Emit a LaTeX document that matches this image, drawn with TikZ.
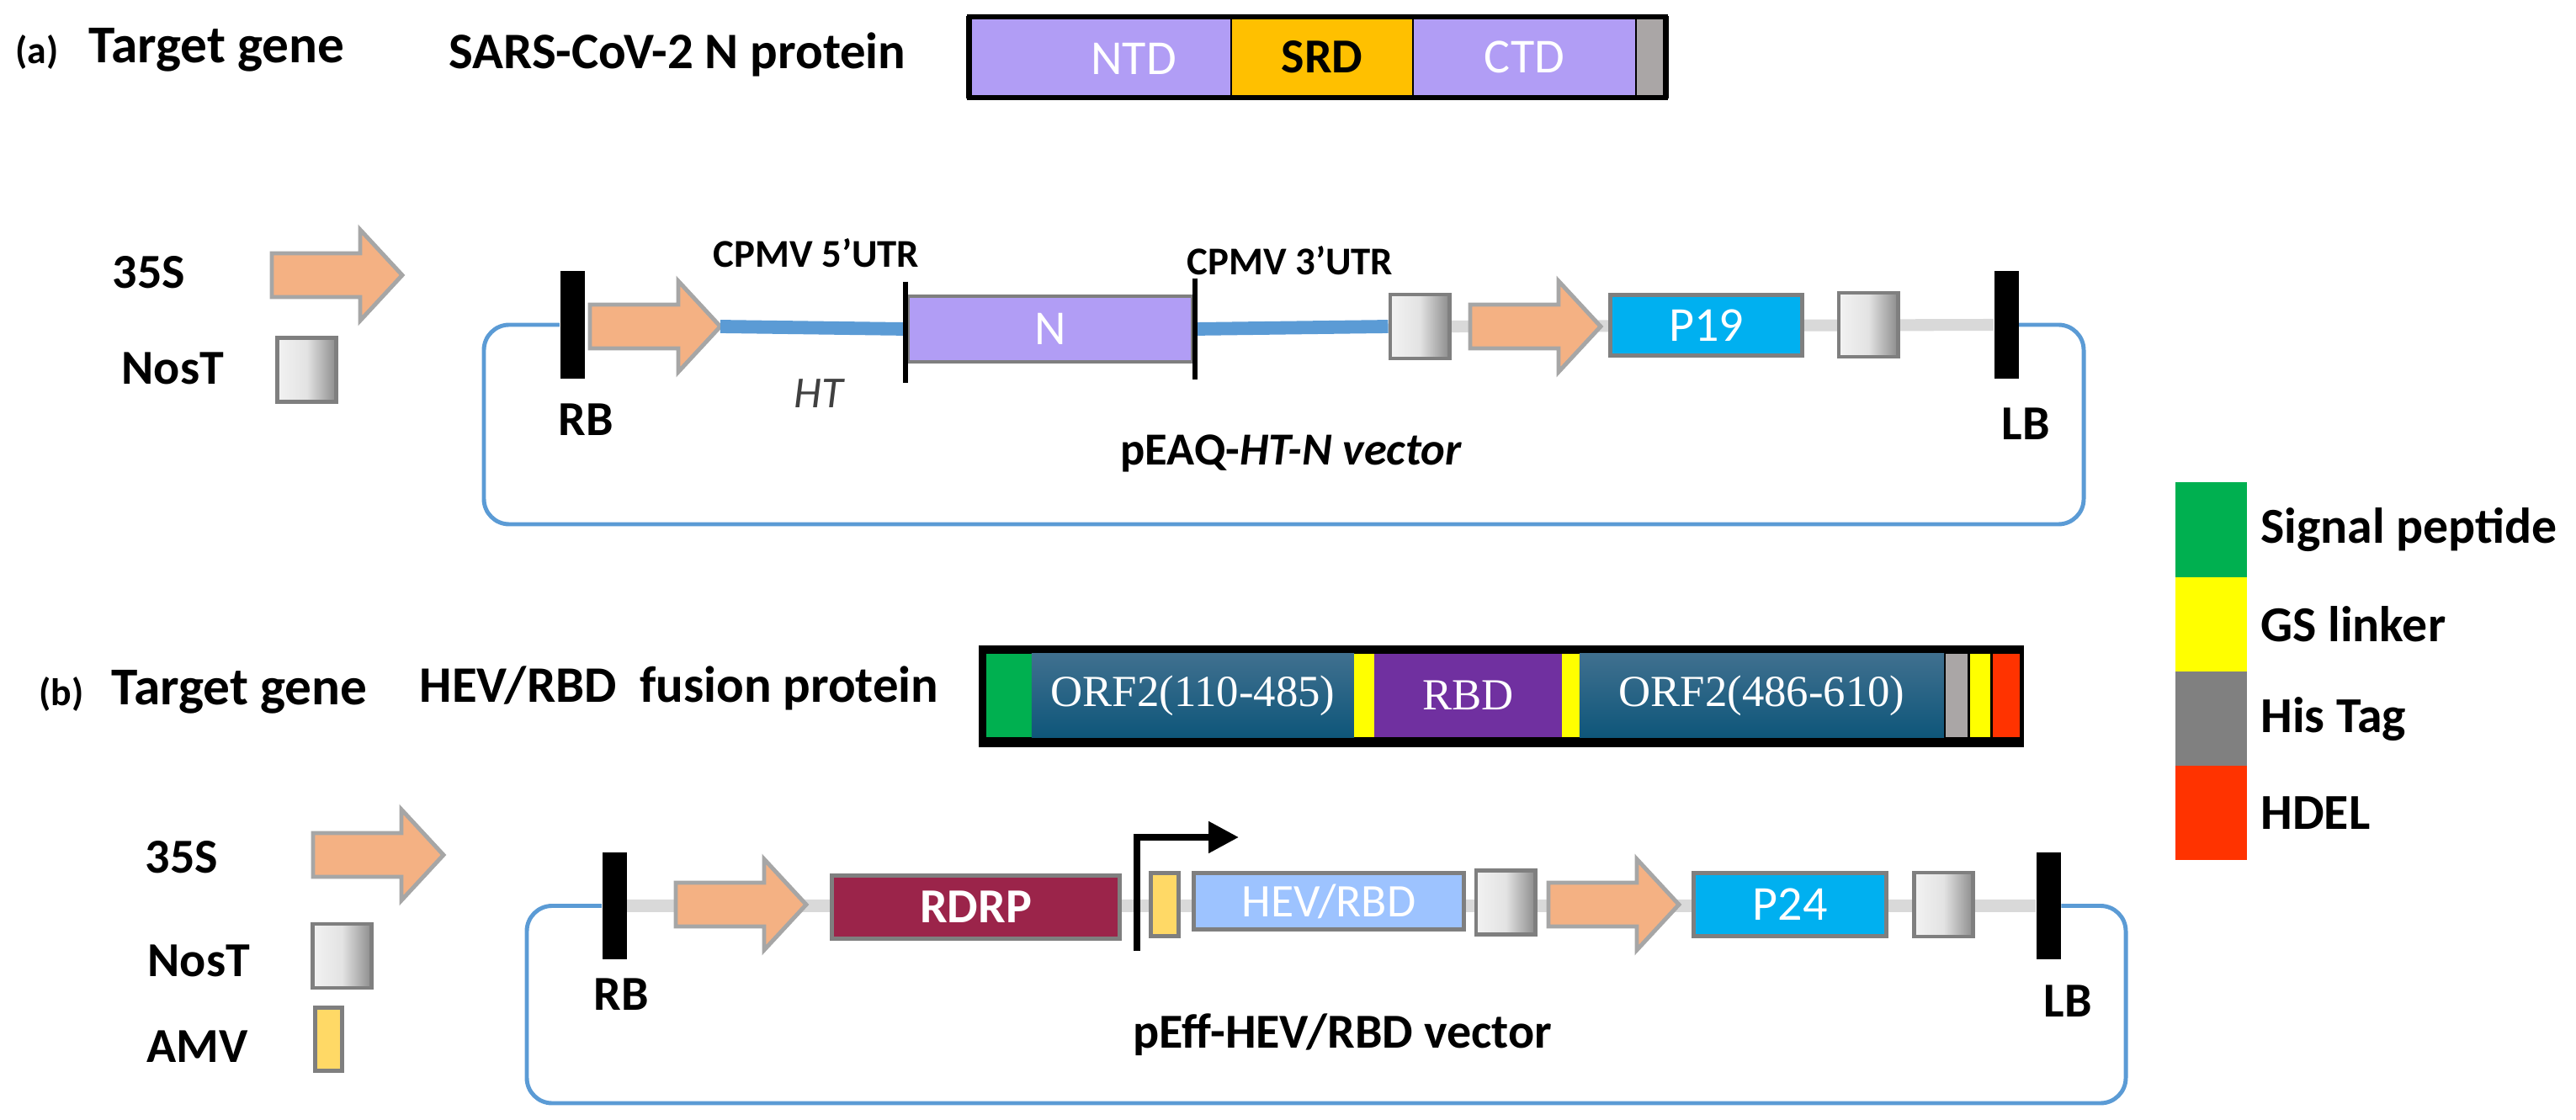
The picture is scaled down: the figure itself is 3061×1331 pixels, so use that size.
\documentclass[tikz,border=0pt]{standalone}
\usepackage{fontspec}
\setmainfont{Carlito}
\newfontfamily\timesfont{Liberation Serif}
\usetikzlibrary{positioning, arrows.meta, backgrounds}

\definecolor{promoOrange}{RGB}{244,177,131}
\definecolor{promoEdge}{RGB}{166,166,166}
\definecolor{boxEdge}{RGB}{127,127,127}
\definecolor{lavender}{RGB}{177,157,245}
\definecolor{srdGold}{RGB}{255,192,0}
\definecolor{tagGray}{RGB}{170,166,166}
\definecolor{pCyan}{RGB}{0,176,240}
\definecolor{vecBlue}{RGB}{91,155,213}
\definecolor{bbGray}{RGB}{217,217,217}
\definecolor{rdrpRed}{RGB}{155,36,74}
\definecolor{hevBlue}{RGB}{157,195,255}
\definecolor{amvYellow}{RGB}{255,217,102}
\definecolor{orfTop}{RGB}{64,112,143}
\definecolor{orfBot}{RGB}{14,86,122}
\definecolor{rbdPurple}{RGB}{112,48,160}
\definecolor{sigGreen}{RGB}{0,176,80}
\definecolor{gsYellow}{RGB}{255,255,0}
\definecolor{hisGray}{RGB}{128,128,128}
\definecolor{hdelRed}{RGB}{255,51,0}

\tikzset{
    promo/.pic={
        \draw[promoEdge, line width=1.4pt, fill=promoOrange]
            (0,-26) -- (105,-26) -- (105,-54) -- (155,0) -- (105,54) -- (105,26) -- (0,26) -- cycle;
        \coordinate (-tip) at (155,0);
    },
    partlbl/.style={font=\bfseries\fontsize{13}{15}\selectfont, inner sep=0, anchor=base west},
    headlbl/.style={font=\bfseries\fontsize{18}{21}\selectfont, inner sep=0, anchor=base west},
    sublbl/.style={font=\bfseries\fontsize{17.3}{20}\selectfont, inner sep=0, anchor=base west},
    keylbl/.style={font=\bfseries\fontsize{16.5}{19}\selectfont, inner sep=0, anchor=base west},
    utrlbl/.style={font=\bfseries\fontsize{13.3}{15}\selectfont, inner sep=0, anchor=base west},
    htlbl/.style={font=\itshape\fontsize{15}{18}\selectfont, text=black!75, inner sep=0, anchor=base west},
    veclbl/.style={font=\bfseries\fontsize{15.5}{18}\selectfont, inner sep=0, anchor=base west},
    gbox/.style={draw=boxEdge, line width=1.4pt, inner sep=0, text=white, font=\fontsize{16.5}{19}\selectfont},
    nost/.style={gbox, minimum width=0.70cm, minimum height=0.76cm, left color=gray!10, right color=gray!90, middle color=gray!22},
    bbar/.style={fill=black, inner sep=0, minimum width=0.29cm, minimum height=1.27cm},
    nseg/.style={draw=black, line width=0.8pt, inner sep=0, minimum height=0.96cm, text=white, font=\fontsize{16.5}{19}\selectfont},
    hseg/.style={inner sep=0, minimum height=0.99cm, text=white, font=\timesfont\fontsize{15}{17}\selectfont},
    vecline/.style={vecBlue, line width=1.4pt, rounded corners=0.3cm},
    utrline/.style={vecBlue, line width=4.5pt},
    utrtick/.style={black, line width=1.7pt},
    backbone/.style={bbGray, line width=4pt},
    tssline/.style={black, line width=2.3pt, -{Triangle[length=0.36cm, width=0.36cm]}},
    keybar/.style={inner sep=0, minimum width=0.85cm, minimum height=1.12cm},
    keytxt/.style={font=\bfseries\fontsize{17}{20}\selectfont, inner sep=0, anchor=west},
}

\begin{document}
\begin{tikzpicture}[x=0.01cm, y=-0.01cm]

\path[use as bounding box] (0,0) rectangle (3061,1331);
\begin{scope}[on background layer]
\fill[white] (0,0) rectangle (3061,1331);
\end{scope}

% ---------- (a) ----------
\node[partlbl] (partA) at (18,76) {(a)};
\node[headlbl] (tgA) at (105,75) {Target gene};
\node[sublbl] (protA) at (533,82) {SARS-CoV-2 N protein};

\node[nseg, fill=lavender, minimum width=3.14cm] (ntd) at (1306,68) {};
\node[nseg, fill=srdGold, minimum width=2.16cm, text=black, font=\bfseries\fontsize{16.5}{19}\selectfont] (srd) at (1571,68) {SRD};
\node[nseg, fill=lavender, minimum width=2.65cm] (ctd) at (1811.5,68) {CTD};
\node[nseg, fill=tagGray, minimum width=0.38cm] (tagA) at (1963,68) {};
\node[draw=black, line width=1.7pt, inner sep=0, minimum width=8.27cm, minimum height=0.96cm] (nFrame) at (1565.5,68) {};
\node[text=white, inner sep=0, font=\fontsize{16.5}{19}\selectfont] (ntdTxt) at (1347,70) {NTD};

\node[keylbl] (p35A) at (133,343) {35S};
\pic (arr35A) at (323,327) {promo};
\node[keylbl] (nosTA) at (144,457) {NosT};
\node[nost] (nosKeyA) at (364.5,439.5) {};

\node[bbar] (rbA) at (680,386) {};
\node[bbar] (lbA) at (2384,386) {};
\pic (arrA1) at (701,388) {promo};
\node[gbox, fill=lavender, minimum width=3.38cm, minimum height=0.78cm] (nBox) at (1248,391) {N};
\node[nost] (nosA1) at (1687,388) {};
\pic (arrA2) at (1747,388) {promo};
\node[gbox, fill=pCyan, minimum width=2.28cm, minimum height=0.72cm] (p19) at (2027.5,386.5) {P19};
\node[nost] (nosA2) at (2220,386) {};

\draw[utrline] (arrA1-tip) -- (nBox.west);
\draw[utrline] (nBox.east) -- (nosA1.west);
\draw[utrtick] (nBox.north west) ++(0,-15) -- ++(0,120);
\draw[utrtick] (nBox.north east) ++(0,-19) -- ++(0,120);

\begin{scope}[on background layer]
\draw[backbone] (nosA1.east) -- (lbA.west);
\end{scope}

\coordinate (cornA) at (575,623);
\coordinate (cornA2) at (2476,386);
\draw[vecline] (rbA.west) -| (cornA) -| (cornA2) -- (lbA.east);

\node[utrlbl] (utr5) at (847,318) {CPMV 5’UTR};
\node[utrlbl] (utr3) at (1410,327) {CPMV 3’UTR};
\node[htlbl] (htA) at (943,485) {HT};
\node[keylbl] (rbAtxt) at (663,518) {RB};
\node[keylbl] (lbAtxt) at (2378,523) {LB};
\node[veclbl] (vecA) at (1331,553) {pEAQ-\textit{HT-N vector}};

% ---------- (b) ----------
\node[partlbl] (partB) at (46,838) {(b)};
\node[headlbl] (tgB) at (132,837) {Target gene};
\node[sublbl] (protB) at (498,834) {HEV/RBD\ \ fusion protein};

\node[fill=black, inner sep=0, minimum width=12.42cm, minimum height=1.21cm] (hevBar) at (1784,827.5) {};
\node[hseg, fill=sigGreen, minimum width=0.54cm] (sigSeg) at (1199,826.5) {};
\node[hseg, top color=orfTop, bottom color=orfBot, minimum width=3.83cm] (orfA) at (1417.5,826.5) {ORF2(110-485)};
\node[hseg, fill=gsYellow, minimum width=0.24cm] (glA) at (1621,826.5) {};
\node[hseg, fill=rbdPurple, minimum width=2.23cm] (rbdSeg) at (1744.5,826.5) {RBD};
\node[hseg, fill=gsYellow, minimum width=0.21cm] (glB) at (1866.5,826.5) {};
\node[hseg, top color=orfTop, bottom color=orfBot, minimum width=4.33cm] (orfB) at (2093.5,826.5) {ORF2(486-610)};
\node[hseg, fill=tagGray, minimum width=0.26cm] (hisSeg) at (2325,826.5) {};
\node[hseg, fill=gsYellow, minimum width=0.24cm] (glC) at (2353,826.5) {};
\node[hseg, fill=hdelRed, minimum width=0.32cm] (hdelSeg) at (2384,826.5) {};

\node[keylbl] (p35B) at (172,1037) {35S};
\pic (arr35B) at (372,1016) {promo};
\node[keylbl] (nosTB) at (175,1160) {NosT};
\node[nost] (nosKeyB) at (406.5,1136) {};
\node[keylbl] (amvB) at (174,1262) {AMV};
\node[gbox, fill=amvYellow, minimum width=0.32cm, minimum height=0.75cm] (amvKey) at (390.5,1235) {};

\node[bbar] (rbB) at (730,1076.5) {};
\node[bbar] (lbB) at (2434,1076.5) {};
\pic (arrB1) at (803,1075) {promo};
\node[gbox, fill=rdrpRed, minimum width=3.42cm, minimum height=0.75cm, font=\bfseries\fontsize{16.5}{19}\selectfont] (rdrp) at (1159.5,1078) {RDRP};
\node[gbox, fill=amvYellow, minimum width=0.33cm, minimum height=0.75cm] (amvIn) at (1384,1075) {};
\node[gbox, fill=hevBlue, minimum width=3.21cm, minimum height=0.67cm, font=\fontsize{15.8}{18}\selectfont] (hevBox) at (1579,1071) {HEV/RBD};
\node[nost] (nosB1) at (1789,1072.5) {};
\pic (arrB2) at (1840,1075) {promo};
\node[gbox, fill=pCyan, minimum width=2.29cm, minimum height=0.75cm] (p24) at (2127,1075) {P24};
\node[nost] (nosB2) at (2309.5,1075) {};

\coordinate (tssBase) at (1351,1130);
\coordinate (tssHead) at (1472,995);
\draw[tssline] (tssBase) |- (tssHead);

\begin{scope}[on background layer]
\draw[backbone] (rbB.east) -- (lbB.west);
\end{scope}

\coordinate (cornB) at (626,1311);
\coordinate (cornB2) at (2526,1076.5);
\draw[vecline] (rbB.west) -| (cornB) -| (cornB2) -- (lbB.east);

\node[keylbl] (rbBtxt) at (705,1200) {RB};
\node[keylbl] (lbBtxt) at (2428,1208) {LB};
\node[veclbl, font=\bfseries\fontsize{16.5}{19}\selectfont] (vecB) at (1346,1245) {pEff-HEV/RBD vector};

% ---------- legend ----------
\foreach \n/\c/\y/\t in
{keySig/sigGreen/629.5/Signal peptide,
    keyGs/gsYellow/742/GS linker,
    keyHis/hisGray/854.5/His Tag,
    keyHdel/hdelRed/966/HDEL
}
{
    \node[keybar, fill=\c] (\n) at (2627.5,\y) {};
    \node[keytxt, right=0.15cm of \n] (\n-txt) {\t};
};

\end{tikzpicture}
\end{document}
